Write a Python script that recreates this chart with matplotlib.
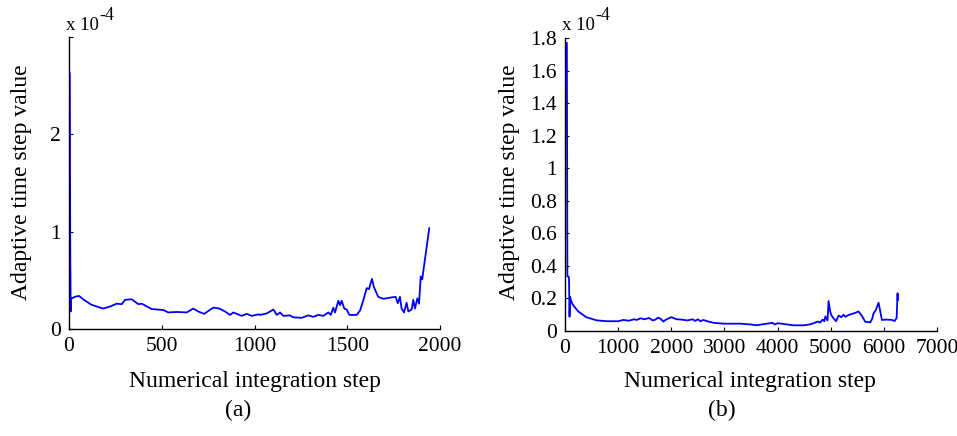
import numpy as np
import matplotlib.pyplot as plt

plt.rcParams['font.family'] = ['Liberation Serif', 'DejaVu Serif']

# panel (a): step index vs adaptive time step (units of 1e-4)
steps_a = [3, 4, 6, 7, 8, 9, 10, 12, 16, 30, 54, 80, 120, 167, 185, 220, 257, 284, 302,
           338, 374, 392, 446, 509, 535, 580, 634, 670, 697, 728, 778, 810, 841,
           868, 886, 931, 958, 985, 1021, 1030, 1066, 1102, 1120, 1138, 1155, 1191,
           1209, 1254, 1290, 1317, 1344, 1371, 1398, 1411, 1425, 1434, 1452, 1461,
           1470, 1484, 1497, 1511, 1551, 1569, 1587, 1605, 1617, 1633, 1644, 1667,
           1695, 1740, 1761, 1772, 1784, 1793, 1806, 1820, 1829, 1847, 1856, 1865,
           1878, 1887, 1896, 1904, 1942]
dt_a = [2.63, 2.6, 1.2, 0.68, 0.55, 0.18, 0.32, 0.31, 0.315, 0.33, 0.34, 0.3, 0.25,
        0.22, 0.21, 0.23, 0.26, 0.255, 0.30, 0.305, 0.255, 0.26, 0.205, 0.195, 0.17,
        0.175, 0.17, 0.21, 0.18, 0.155, 0.22, 0.21, 0.18, 0.145, 0.17, 0.135, 0.155,
        0.135, 0.15, 0.145, 0.16, 0.2, 0.145, 0.17, 0.135, 0.14, 0.12, 0.115, 0.14,
        0.125, 0.145, 0.135, 0.17, 0.145, 0.22, 0.17, 0.29, 0.245, 0.29, 0.21, 0.2,
        0.145, 0.145, 0.19, 0.3, 0.42, 0.41, 0.515, 0.43, 0.33, 0.31, 0.325, 0.33,
        0.265, 0.33, 0.21, 0.17, 0.27, 0.18, 0.2, 0.3, 0.21, 0.315, 0.26, 0.54,
        0.51, 1.035]

# panel (b)
steps_b = [15, 25, 35, 45, 60, 75, 85, 95, 110, 150, 250, 400, 600, 800, 1000, 1100,
           1200, 1300, 1350, 1420, 1500, 1580, 1650, 1700, 1750, 1800, 1850, 1900,
           2000, 2100, 2200, 2300, 2400, 2450, 2500, 2550, 2600, 2700, 2800, 3000,
           3300, 3500, 3600, 3800, 3900, 3950, 4000, 4300, 4500, 4600, 4700, 4750,
           4800, 4850, 4880, 4900, 4940, 4959, 4990, 5010, 5053, 5100, 5150, 5200,
           5240, 5273, 5350, 5450, 5524, 5587, 5650, 5744, 5780, 5806, 5850, 5900,
           5964, 6050, 6152, 6202, 6240, 6258, 6262]
dt_b = [1.77, 1.77, 1.77, 0.335, 0.335, 0.33, 0.088, 0.21, 0.19, 0.16, 0.12, 0.085,
        0.065, 0.06, 0.06, 0.068, 0.063, 0.072, 0.068, 0.078, 0.072, 0.08, 0.065,
        0.07, 0.082, 0.075, 0.058, 0.07, 0.085, 0.072, 0.07, 0.065, 0.072, 0.062,
        0.072, 0.06, 0.068, 0.058, 0.05, 0.045, 0.045, 0.04, 0.035, 0.045, 0.05,
        0.04, 0.048, 0.035, 0.035, 0.04, 0.05, 0.058, 0.052, 0.07, 0.06, 0.09,
        0.065, 0.184, 0.12, 0.098, 0.078, 0.06, 0.095, 0.085, 0.1, 0.088, 0.1, 0.11,
        0.12, 0.092, 0.057, 0.053, 0.075, 0.109, 0.13, 0.174, 0.068, 0.07, 0.068,
        0.061, 0.08, 0.232, 0.19]

W, H = 957, 436
fig = plt.figure(figsize=(W / 100, H / 100), dpi=100)


def box(l, t, r, b):
    return [l / W, 1 - b / H, (r - l) / W, (b - t) / H]


def style(ax):
    ax.spines['top'].set_visible(False)
    ax.spines['right'].set_visible(False)
    for s in ['left', 'bottom']:
        ax.spines[s].set_linewidth(1.0)
    ax.tick_params(direction='in', length=3, width=0.8, labelsize=15.5, pad=6)


ax1 = fig.add_axes(box(69, 37, 440, 329))
ax1.plot(steps_a, dt_a, color='#0000ff', lw=1.3)
ax1.set_xlim(0, 2000)
ax1.set_ylim(0, 3)
ax1.set_xticks([0, 500, 1000, 1500, 2000])
ax1.set_yticks([0, 1, 2, 3])
ax1.set_yticklabels(['0', '1', '2', ''])
style(ax1)

ax2 = fig.add_axes(box(565, 38, 937, 331))
ax2.plot(steps_b, dt_b, color='#0000ff', lw=1.3)
ax2.set_xlim(0, 7000)
ax2.set_ylim(0, 1.8)
ax2.set_xticks(np.arange(0, 7001, 1000))
ax2.set_yticks([0, 0.2, 0.4, 0.6, 0.8, 1, 1.2, 1.4, 1.6, 1.8])
ax2.set_yticklabels(['0', '0.2', '0.4', '0.6', '0.8', '1', '1.2', '1.4', '1.6', '1.8'])
style(ax2)

# exponent labels
for x0 in [66, 562]:
    fig.text(x0 / W, 1 - 25 / H, 'x 10', fontsize=13.5, ha='left', va='center')
    fig.text((x0 + 33) / W, 1 - 15 / H, '-4', fontsize=13, ha='left', va='center')

# axis labels
for xc, yl in [(22, 182), (510, 182)]:
    fig.text(xc / W, 1 - yl / H, 'Adaptive time step value', fontsize=17,
             rotation=90, ha='center', va='center')
for xc in [255, 750]:
    fig.text(xc / W, 1 - 381 / H, 'Numerical integration step', fontsize=17,
             ha='center', va='center')
fig.text(238 / W, 1 - 410 / H, '(a)', fontsize=17, ha='center', va='center')
fig.text(722 / W, 1 - 410 / H, '(b)', fontsize=17, ha='center', va='center')

fig.savefig('out.png', dpi=100)
